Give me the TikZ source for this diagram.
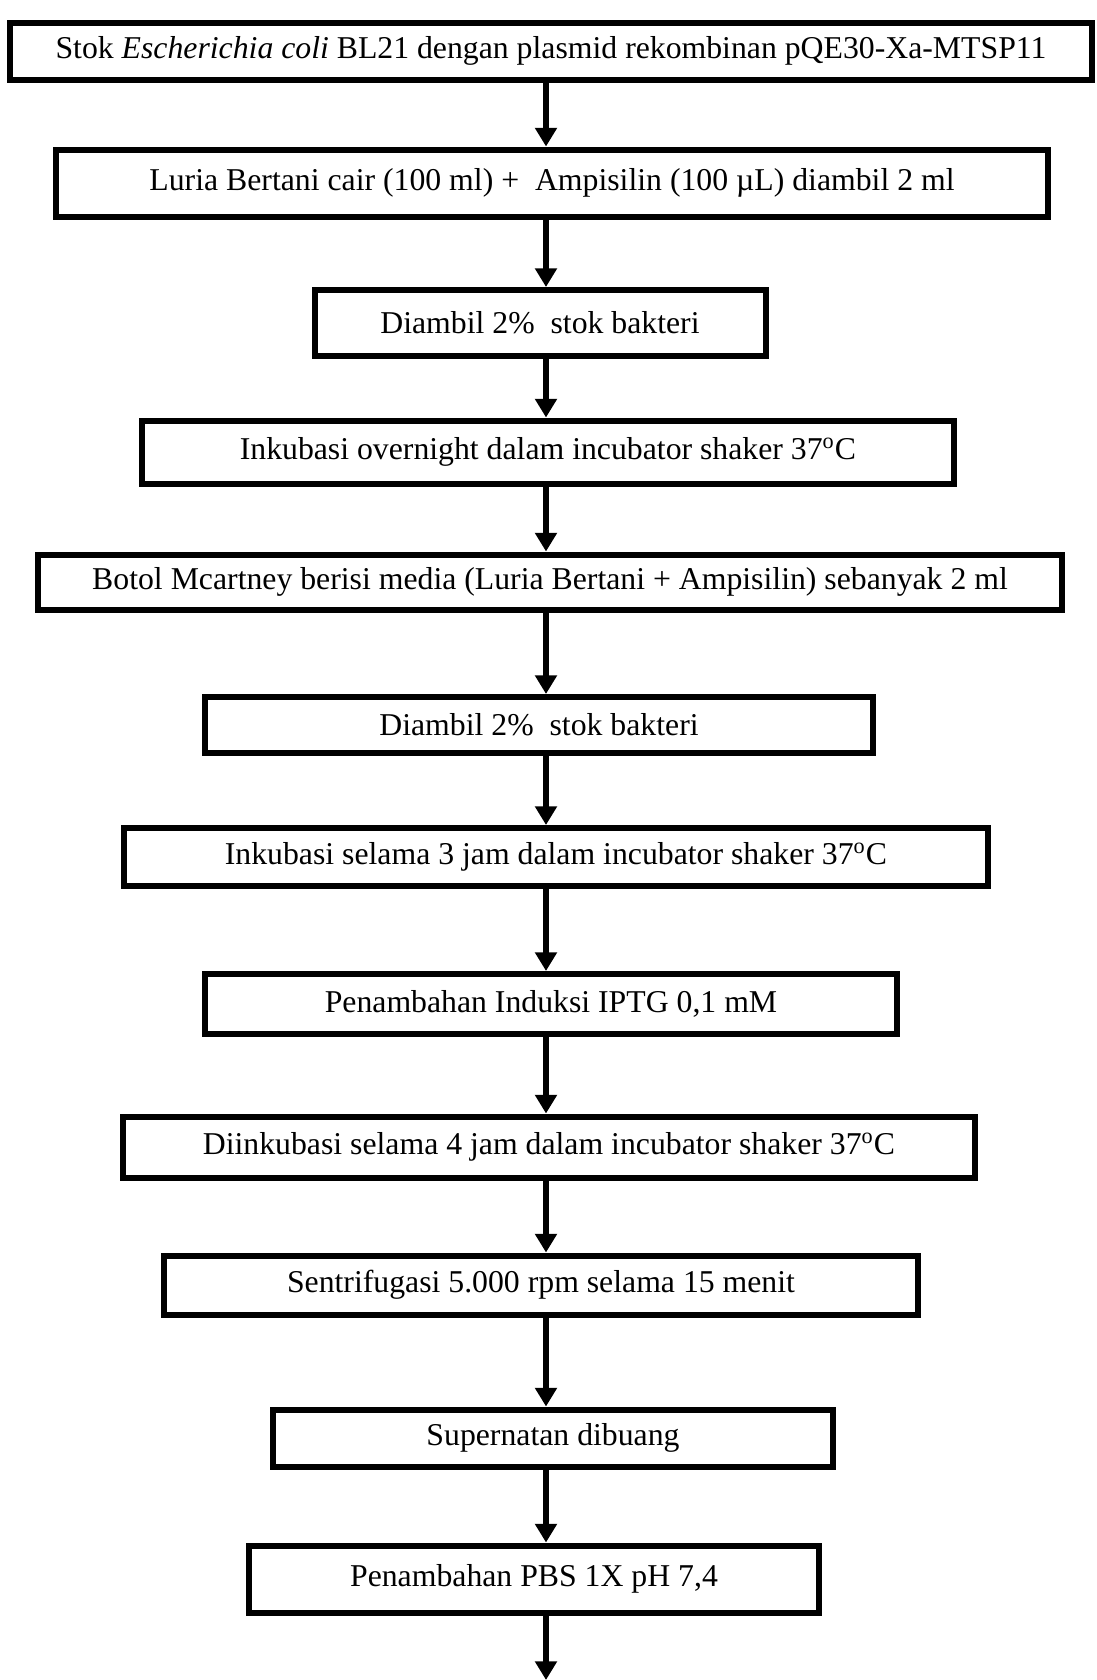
\documentclass[tikz,border=0pt]{standalone}
\usepackage{fontspec}
\setmainfont{Liberation Serif}
\usepackage{tikz}
\usetikzlibrary{arrows.meta, positioning, calc}

\tikzset{
  stepbox/.style={draw, line width=2.4pt, inner sep=0pt, align=center,
    font=\fontsize{12.7}{15}\selectfont},
  flowarrow/.style={line width=2.4pt, -{Triangle[width=8.5pt,length=7.5pt]}}
}

\begin{document}
\begin{tikzpicture}[x=0.4pt, y=-0.4pt]
      \useasboundingbox (0,0) rectangle (1097,1680);
      \coordinate (axis) at (546,0);
      \node[stepbox, minimum width=432.4pt, minimum height=22.8pt] (b1) at (551,51)
        {Stok \textit{Escherichia coli} BL21 dengan plasmid rekombinan pQE30-Xa-MTSP11};
      \node[stepbox, minimum width=396.4pt, minimum height=26.8pt] (b2) at (552,183)
        {Luria Bertani cair (100 ml) +\ \ Ampisilin (100 µL) diambil 2 ml};
      \node[stepbox, minimum width=180.4pt, minimum height=26.4pt] (b3) at (540,323)
        {Diambil 2\%\ \ stok bakteri};
      \node[stepbox, minimum width=324.4pt, minimum height=25.2pt] (b4) at (548,452)
        {Inkubasi overnight dalam incubator shaker 37\textsuperscript{o}C};
      \node[stepbox, minimum width=409.2pt, minimum height=22pt] (b5) at (550,582)
        {Botol Mcartney berisi media (Luria Bertani + Ampisilin) sebanyak 2 ml};
      \node[stepbox, minimum width=267.2pt, minimum height=22.4pt] (b6) at (539,725)
        {Diambil 2\%\ \ stok bakteri};
      \node[stepbox, minimum width=345.6pt, minimum height=23.2pt] (b7) at (556,857)
        {Inkubasi selama 3 jam dalam incubator shaker 37\textsuperscript{o}C};
      \node[stepbox, minimum width=276.8pt, minimum height=24pt] (b8) at (551,1004)
        {Penambahan Induksi IPTG 0,1 mM};
      \node[stepbox, minimum width=340.4pt, minimum height=24.4pt] (b9) at (549,1147)
        {Diinkubasi selama 4 jam dalam incubator shaker 37\textsuperscript{o}C};
      \node[stepbox, minimum width=301.6pt, minimum height=23.6pt] (b10) at (541,1285)
        {Sentrifugasi 5.000 rpm selama 15 menit};
      \node[stepbox, minimum width=224pt, minimum height=22.8pt] (b11) at (553,1438)
        {Supernatan dibuang};
      \node[stepbox, minimum width=228pt, minimum height=26.8pt] (b12) at (534,1579)
        {Penambahan PBS 1X pH 7,4};
      \coordinate (out) at (546,1680);

      \foreach \a/\b in {b1/b2, b2/b3, b3/b4, b4/b5, b5/b6, b6/b7, b7/b8,
                         b8/b9, b9/b10, b10/b11, b11/b12}
        \draw[flowarrow] (\a.south -| axis) -- (\b.north -| axis);
      \draw[flowarrow] (b12.south -| axis) -- (out);
    \end{tikzpicture}
\end{document}
